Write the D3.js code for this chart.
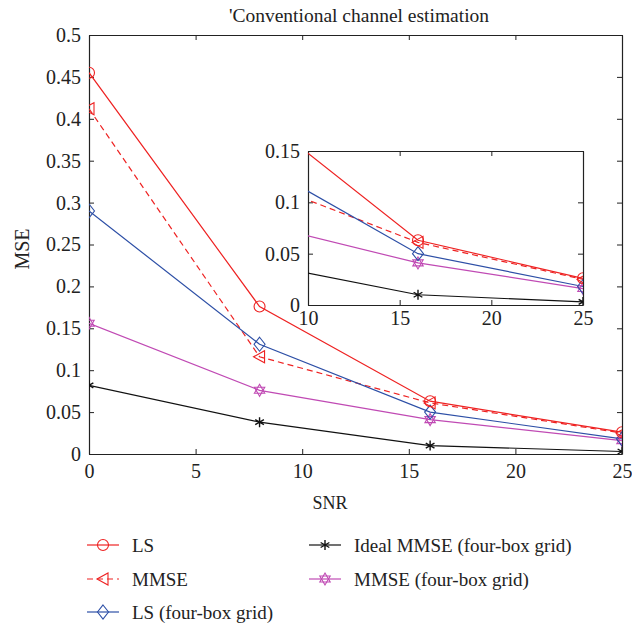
<!DOCTYPE html>
<html>
<head>
<meta charset="utf-8">
<script src="https://cdn.jsdelivr.net/npm/d3@7"></script>
<style>
  body { margin: 0; background: #fff; }
  text { font-family: 'Liberation Serif', serif; fill: #222; }
</style>
</head>
<body>
<script>
var snr = [0, 8, 16, 25];
var ls = [0.455, 0.176, 0.063, 0.026];
var mmse = [0.412, 0.116, 0.061, 0.025];
var lsGrid = [0.290, 0.131, 0.050, 0.018];
var mmseGrid = [0.156, 0.076, 0.041, 0.016];
var idealGrid = [0.082, 0.038, 0.010, 0.003];
var mainXTicks = [0, 5, 10, 15, 20, 25];
var mainYTicks = [0, 0.05, 0.1, 0.15, 0.2, 0.25, 0.3, 0.35, 0.4, 0.45, 0.5];
var insetXTicks = [10, 15, 20, 25];
var insetYTicks = [0, 0.05, 0.1, 0.15];

var FONT = "'Liberation Serif', serif";

var series = [
  { name: "LS", values: ls, color: "#ee2222", marker: "circle", dash: null },
  { name: "MMSE", values: mmse, color: "#ee2222", marker: "triangle", dash: "6,4" },
  { name: "LS (four-box grid)", values: lsGrid, color: "#2d4fa6", marker: "diamond", dash: null },
  { name: "Ideal MMSE (four-box grid)", values: idealGrid, color: "#111", marker: "asterisk", dash: null },
  { name: "MMSE (four-box grid)", values: mmseGrid, color: "#c04ab4", marker: "hexagram", dash: null }
];

var svg = d3.select("body").append("svg")
  .attr("width", 632).attr("height", 629);

function drawMarker(g, type, x, y, color) {
  var m = g.append("g").attr("transform", "translate(" + x + "," + y + ")")
    .attr("fill", "none").attr("stroke", color).attr("stroke-width", 1.1);
  if (type === "circle") {
    m.append("circle").attr("r", 5.5);
  } else if (type === "triangle") {
    m.append("path").attr("d", "M-6,0L5,-6L5,6Z");
  } else if (type === "diamond") {
    m.append("path").attr("d", "M0,-7L5.5,0L0,7L-5.5,0Z");
  } else if (type === "hexagram") {
    var r = 6;
    var t1 = [0, 1, 2].map(function(i) { var a = -Math.PI / 2 + i * 2 * Math.PI / 3; return [r * Math.cos(a), r * Math.sin(a)]; });
    var t2 = [0, 1, 2].map(function(i) { var a = Math.PI / 2 + i * 2 * Math.PI / 3; return [r * Math.cos(a), r * Math.sin(a)]; });
    m.append("path").attr("d", "M" + t1.join("L") + "Z");
    m.append("path").attr("d", "M" + t2.join("L") + "Z");
  } else if (type === "asterisk") {
    var s = 5;
    m.append("path").attr("stroke-width", 1.4)
      .attr("d", "M0,-" + s + "L0," + s + "M-" + s * 0.87 + ",-" + s / 2 + "L" + s * 0.87 + "," + s / 2 +
        "M-" + s * 0.87 + "," + s / 2 + "L" + s * 0.87 + ",-" + s / 2);
  }
}

function drawPanel(opts) {
  var x = d3.scaleLinear().domain(opts.xDomain).range([opts.left, opts.right]);
  var y = d3.scaleLinear().domain(opts.yDomain).range([opts.bottom, opts.top]);
  var g = svg.append("g");
  var clipId = "clip" + opts.id;
  svg.append("clipPath").attr("id", clipId).append("rect")
    .attr("x", opts.left).attr("y", opts.top)
    .attr("width", opts.right - opts.left).attr("height", opts.bottom - opts.top);

  if (opts.fill) {
    g.append("rect").attr("x", opts.left).attr("y", opts.top)
      .attr("width", opts.right - opts.left).attr("height", opts.bottom - opts.top)
      .attr("fill", "#fff");
  }

  var tickLen = 5;
  var ax = [
    { axis: d3.axisBottom(x).tickValues(opts.xTicks).tickSizeInner(-tickLen).tickSizeOuter(0).tickPadding(opts.xPad), t: "translate(0," + opts.bottom + ")", labels: true },
    { axis: d3.axisTop(x).tickValues(opts.xTicks).tickSizeInner(-tickLen).tickSizeOuter(0), t: "translate(0," + opts.top + ")", labels: false },
    { axis: d3.axisLeft(y).tickValues(opts.yTicks).tickSizeInner(-tickLen).tickSizeOuter(0).tickPadding(8).tickFormat(d3.format("~g")), t: "translate(" + opts.left + ",0)", labels: true },
    { axis: d3.axisRight(y).tickValues(opts.yTicks).tickSizeInner(-tickLen).tickSizeOuter(0), t: "translate(" + opts.right + ",0)", labels: false }
  ];
  ax.forEach(function(a) {
    var ag = g.append("g").attr("transform", a.t).call(a.axis).attr("font-family", null);
    ag.select(".domain").attr("stroke", "#222").attr("stroke-width", 1.2);
    ag.selectAll(".tick line").attr("stroke", "#222");
    ag.selectAll(".tick text").style("font-family", FONT)
      .style("font-size", opts.fontSize + "px").attr("fill", "#222");
    if (!a.labels) ag.selectAll(".tick text").remove();
  });

  var line = d3.line().x(function(d) { return x(d[0]); }).y(function(d) { return y(d[1]); });
  var plot = g.append("g").attr("clip-path", "url(#" + clipId + ")");
  series.forEach(function(s) {
    var pts = snr.map(function(v, i) { return [v, s.values[i]]; });
    plot.append("path").datum(pts).attr("d", line)
      .attr("fill", "none").attr("stroke", s.color).attr("stroke-width", 1.2)
      .attr("stroke-dasharray", s.dash);
  });
  var order = [3, 4, 2, 1, 0];
  order.forEach(function(k) {
    var s = series[k];
    snr.forEach(function(v, i) {
      if (v < opts.xDomain[0]) return;
      drawMarker(plot, s.marker, x(v), y(s.values[i]), s.color);
    });
  });
  return { x: x, y: y };
}

drawPanel({
  id: "main", left: 89, right: 622, top: 35, bottom: 454, xPad: 10,
  xDomain: [0, 25], yDomain: [0, 0.5], xTicks: mainXTicks, yTicks: mainYTicks, fontSize: 20
});

drawPanel({
  id: "inset", left: 308, right: 583, top: 151, bottom: 305, fill: true, xPad: 6,
  xDomain: [10, 25], yDomain: [0, 0.15], xTicks: insetXTicks, yTicks: insetYTicks, fontSize: 20
});

svg.append("text").attr("x", 359).attr("y", 22).attr("text-anchor", "middle")
  .style("font-size", "19.5px").text("'Conventional channel estimation");

svg.append("text").attr("x", 330).attr("y", 509).attr("text-anchor", "middle")
  .style("font-size", "18px").text("SNR");

svg.append("text").attr("transform", "translate(29,249) rotate(-90)").attr("text-anchor", "middle")
  .style("font-size", "20px").text("MSE");

// legend
var legendPos = [
  { s: 0, x: 87, y: 545 },
  { s: 1, x: 87, y: 579 },
  { s: 2, x: 87, y: 612 },
  { s: 3, x: 309, y: 545 },
  { s: 4, x: 309, y: 579 }
];
var leg = svg.append("g");
legendPos.forEach(function(p) {
  var s = series[p.s];
  leg.append("line").attr("x1", p.x).attr("x2", p.x + 32).attr("y1", p.y).attr("y2", p.y)
    .attr("stroke", s.color).attr("stroke-width", 1.2).attr("stroke-dasharray", s.dash);
  drawMarker(leg, s.marker, p.x + 16, p.y, s.color);
  leg.append("text").attr("x", p.x + 45).attr("y", p.y + 6.5)
    .style("font-size", "19px").text(s.name);
});
</script>
</body>
</html>
